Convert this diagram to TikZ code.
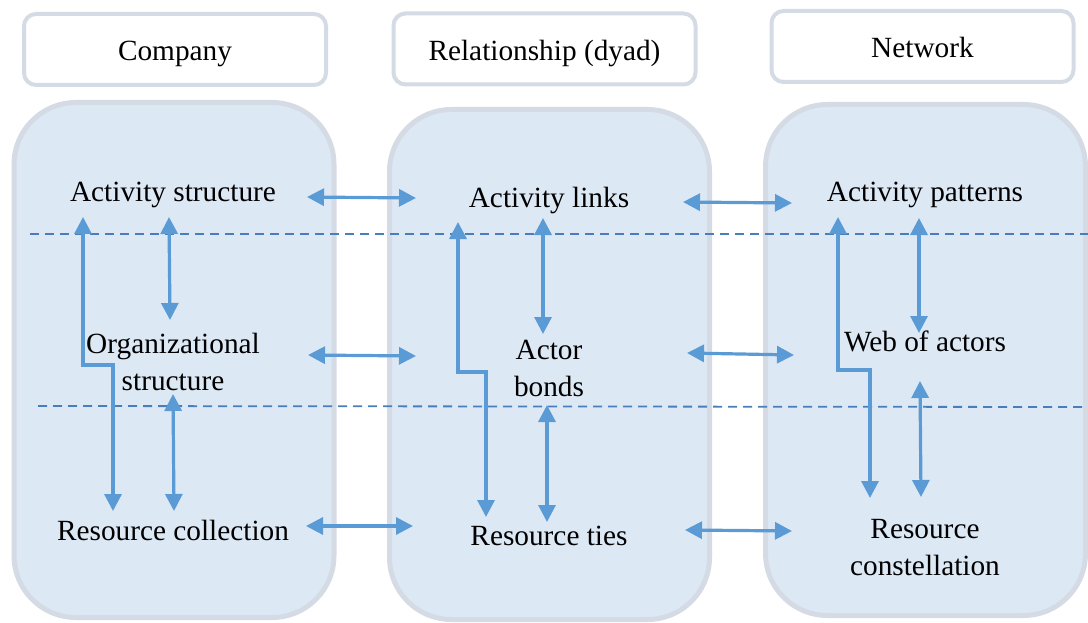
\documentclass[tikz,border=0pt]{standalone}
\usepackage{fontspec}
\setmainfont{Liberation Serif}
\usetikzlibrary{arrows.meta}
\definecolor{panelfill}{HTML}{DDE8F5}
\definecolor{panelline}{HTML}{D5DBE5}
\definecolor{linkblue}{HTML}{5B9BD5}
\definecolor{dashblue}{HTML}{4A7EBB}
\tikzset{
  header/.style={draw=panelline, line width=4pt, fill=white, rounded corners=12pt,
    minimum width=302pt, minimum height=71pt, inner sep=0pt,
    text height=23pt, text depth=0pt,
    font=\rmfamily\fontsize{29.3}{35}\selectfont},
  panel/.style={draw=panelline, line width=5pt, fill=panelfill, rounded corners=62pt,
    minimum width=320pt, inner sep=0pt},
  term/.style={align=center, inner sep=0pt, font=\rmfamily\fontsize{29.3}{37}\selectfont},
  link/.style={draw=linkblue, line width=3.2pt,
    {Triangle[length=17pt,width=17pt]}-{Triangle[length=17pt,width=17pt]}},
  level/.style={draw=dashblue, line width=1.8pt, dash pattern=on 9pt off 6pt}
}
\begin{document}
\begin{tikzpicture}[x=1pt,y=-1pt]
  \useasboundingbox (0,0) rectangle (1088,623);
  % headers
  \node[header] at (175,49.5) (hcomp) {Company};
  \node[header] at (544.5,49) (hrel) {Relationship (dyad)};
  \node[header] at (922.5,46.5) (hnet) {Network};
  % panels
  \node[panel, minimum height=515pt] at (174,360) (pcomp) {};
  \node[panel, minimum height=510pt] at (549.5,364.5) (prel) {};
  \node[panel, minimum height=511pt] at (925.5,360) (pnet) {};
  % level separators
  \draw[level] (30,234) -- (1088,234);
  \draw[level] (38,406) -- (1085,407);
  % company
  \node[term] at (173,195) (as) {Activity structure};
  \node[term] at (173,362) (org) {Organizational\\structure};
  \node[term] at (173,530) (rc) {Resource collection};
  % relationship
  \node[term] at (549,200) (al) {Activity links};
  \node[term] at (549,368) (ab) {Actor\\bonds};
  \node[term] at (549,536) (rt) {Resource ties};
  % network
  \node[term] at (925,195) (ap) {Activity patterns};
  \node[term] at (925,341) (wa) {Web of actors};
  \node[term] at (925,548) (rcon) {Resource\\constellation};
  % across
  \draw[link] ([shift={(134,2)}]as.center) -- ([shift={(-133,-2)}]al.center);
  \draw[link] ([shift={(135,-7)}]org.center) -- ([shift={(-133,-12)}]ab.center);
  \draw[link] ([shift={(133,-4)}]rc.center) -- ([shift={(-136,-10)}]rt.center);
  \draw[link] ([shift={(134,2)}]al.center) -- ([shift={(-133,8)}]ap.center);
  \draw[link] ([shift={(138,-15)}]ab.center) -- ([shift={(-131,14)}]wa.center);
  \draw[link] ([shift={(136,-6)}]rt.center) -- ([shift={(-133,-17)}]rcon.center);
  % within company
  \draw[link] ([shift={(-4,22)}]as.center) -- ([shift={(-3,-42)}]org.center);
  \draw[link] ([shift={(0,32)}]org.center) -- ([shift={(1,-19)}]rc.center);
  \draw[link] ([shift={(-90,22)}]as.center) |- ([shift={(-60,3)}]org.center) -- ([shift={(-60,-19)}]rc.center);
  % within relationship
  \draw[link] ([shift={(-6,18)}]al.center) -- ([shift={(-6,-34)}]ab.center);
  \draw[link] ([shift={(-2,37)}]ab.center) -- ([shift={(-2,-14)}]rt.center);
  \draw[link] ([shift={(-91,22)}]al.center) |- ([shift={(-63,4)}]ab.center) -- ([shift={(-63,-19)}]rt.center);
  % within network
  \draw[link] ([shift={(-6,23)}]ap.center) -- ([shift={(-6,-8)}]wa.center);
  \draw[link] ([shift={(-5,40)}]wa.center) -- ([shift={(-4,-51)}]rcon.center);
  \draw[link] ([shift={(-87,22)}]ap.center) |- ([shift={(-55,29)}]wa.center) -- ([shift={(-55,-50)}]rcon.center);
\end{tikzpicture}
\end{document}
